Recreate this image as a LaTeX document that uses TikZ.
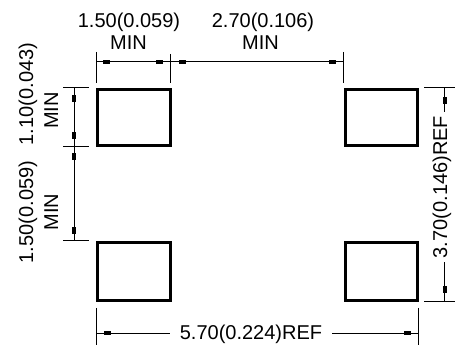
\documentclass[tikz,border=0pt]{standalone}
\usepackage{fontspec}
\setmainfont{Liberation Sans}
\begin{document}
\begin{tikzpicture}[x=1pt,y=-1pt,
  pad/.style={draw=black,line width=3pt,inner sep=0pt,outer sep=0pt},
  dimline/.style={draw=black,line width=1pt},
  mk/.style={fill=black,inner sep=0pt,minimum width=7pt,minimum height=4pt},
  mkv/.style={mk,minimum width=4pt,minimum height=7pt},
  lbl/.style={font=\fontsize{20}{22}\selectfont,inner sep=0pt},
  reflbl/.style={lbl,fill=white,inner xsep=8pt,inner ysep=1pt}]
\useasboundingbox (0,0) rectangle (458,347);
% pads
\node[pad,minimum width=72.5pt,minimum height=56pt] (padTL) at (133.75,117.5) {};
\node[pad,minimum width=72.5pt,minimum height=56pt] (padTR) at (381.25,117.5) {};
\node[pad,minimum width=72.5pt,minimum height=58.5pt] (padBL) at (133.75,271.75) {};
\node[pad,minimum width=72.5pt,minimum height=58.5pt] (padBR) at (381.25,271.75) {};
% top extension lines
\coordinate (ta1) at (96.5,52); \coordinate (ta2) at (96.5,83);
\coordinate (tb1) at (170,54);  \coordinate (tb2) at (170,83);
\coordinate (tc1) at (343.5,52); \coordinate (tc2) at (343.5,83);
\coordinate (tda) at (96.5,62); \coordinate (tdc) at (343.5,62);
\draw[dimline] (ta1) -- (ta2);
\draw[dimline] (tb1) -- (tb2);
\draw[dimline] (tc1) -- (tc2);
\draw[dimline] (tda) -- (tdc);
\node[mk] (tm1) at (106.5,62) {};
\node[mk] (tm2) at (159.5,62) {};
\node[mk] (tm3) at (182.5,62) {};
\node[mk] (tm4) at (332.5,62) {};
\node[lbl,anchor=base] (tt1) at (129,27.7) {1.50(0.059)};
\node[lbl,anchor=base] (tt2) at (128.5,50) {MIN};
\node[lbl,anchor=base] (tt3) at (263,27.7) {2.70(0.106)};
\node[lbl,anchor=base] (tt4) at (260.5,50) {MIN};
% left extension lines
\coordinate (la1) at (63,88); \coordinate (la2) at (89,88);
\coordinate (lb1) at (63,146.5); \coordinate (lb2) at (89,146.5);
\coordinate (lc1) at (63,241); \coordinate (lc2) at (89,241);
\coordinate (lda) at (74,88); \coordinate (ldc) at (74,241);
\draw[dimline] (la1) -- (la2);
\draw[dimline] (lb1) -- (lb2);
\draw[dimline] (lc1) -- (lc2);
\draw[dimline] (lda) -- (ldc);
\node[mkv] (lm1) at (74,98.5) {};
\node[mkv] (lm2) at (74,136) {};
\node[mkv] (lm3) at (74,157) {};
\node[mkv] (lm4) at (74,230.5) {};
\node[lbl,anchor=base,rotate=90] (lt1) at (33,94) {1.10(0.043)};
\node[lbl,anchor=base,rotate=90] (lt2) at (58,110.5) {MIN};
\node[lbl,anchor=base,rotate=90] (lt3) at (33,212) {1.50(0.059)};
\node[lbl,anchor=base,rotate=90] (lt4) at (58,212) {MIN};
% right dimension
\coordinate (ra1) at (424,88); \coordinate (ra2) at (455,88);
\coordinate (rb1) at (424,302); \coordinate (rb2) at (455,302);
\coordinate (rda) at (444.5,88); \coordinate (rdb) at (444.5,302);
\draw[dimline] (ra1) -- (ra2);
\draw[dimline] (rb1) -- (rb2);
\draw[dimline] (rda) -- (rdb);
\node[mkv] (rm1) at (444.5,100.5) {};
\node[mkv] (rm2) at (444.5,290) {};
\node[reflbl,anchor=center,rotate=90,inner xsep=4pt] (rt) at (442,187) {3.70(0.146)REF};
% bottom dimension
\coordinate (ba1) at (96.5,308); \coordinate (ba2) at (96.5,345);
\coordinate (bb1) at (418.5,308); \coordinate (bb2) at (418.5,345);
\coordinate (bda) at (96.5,333.5); \coordinate (bdb) at (418.5,333.5);
\draw[dimline] (ba1) -- (ba2);
\draw[dimline] (bb1) -- (bb2);
\draw[dimline] (bda) -- (bdb);
\node[mk] (bm1) at (107,333.5) {};
\node[mk] (bm2) at (407.5,333.5) {};
\node[reflbl,anchor=base,inner xsep=10pt,inner ysep=0pt] (bt) at (251,340) {5.70(0.224)REF};
\end{tikzpicture}
\end{document}
